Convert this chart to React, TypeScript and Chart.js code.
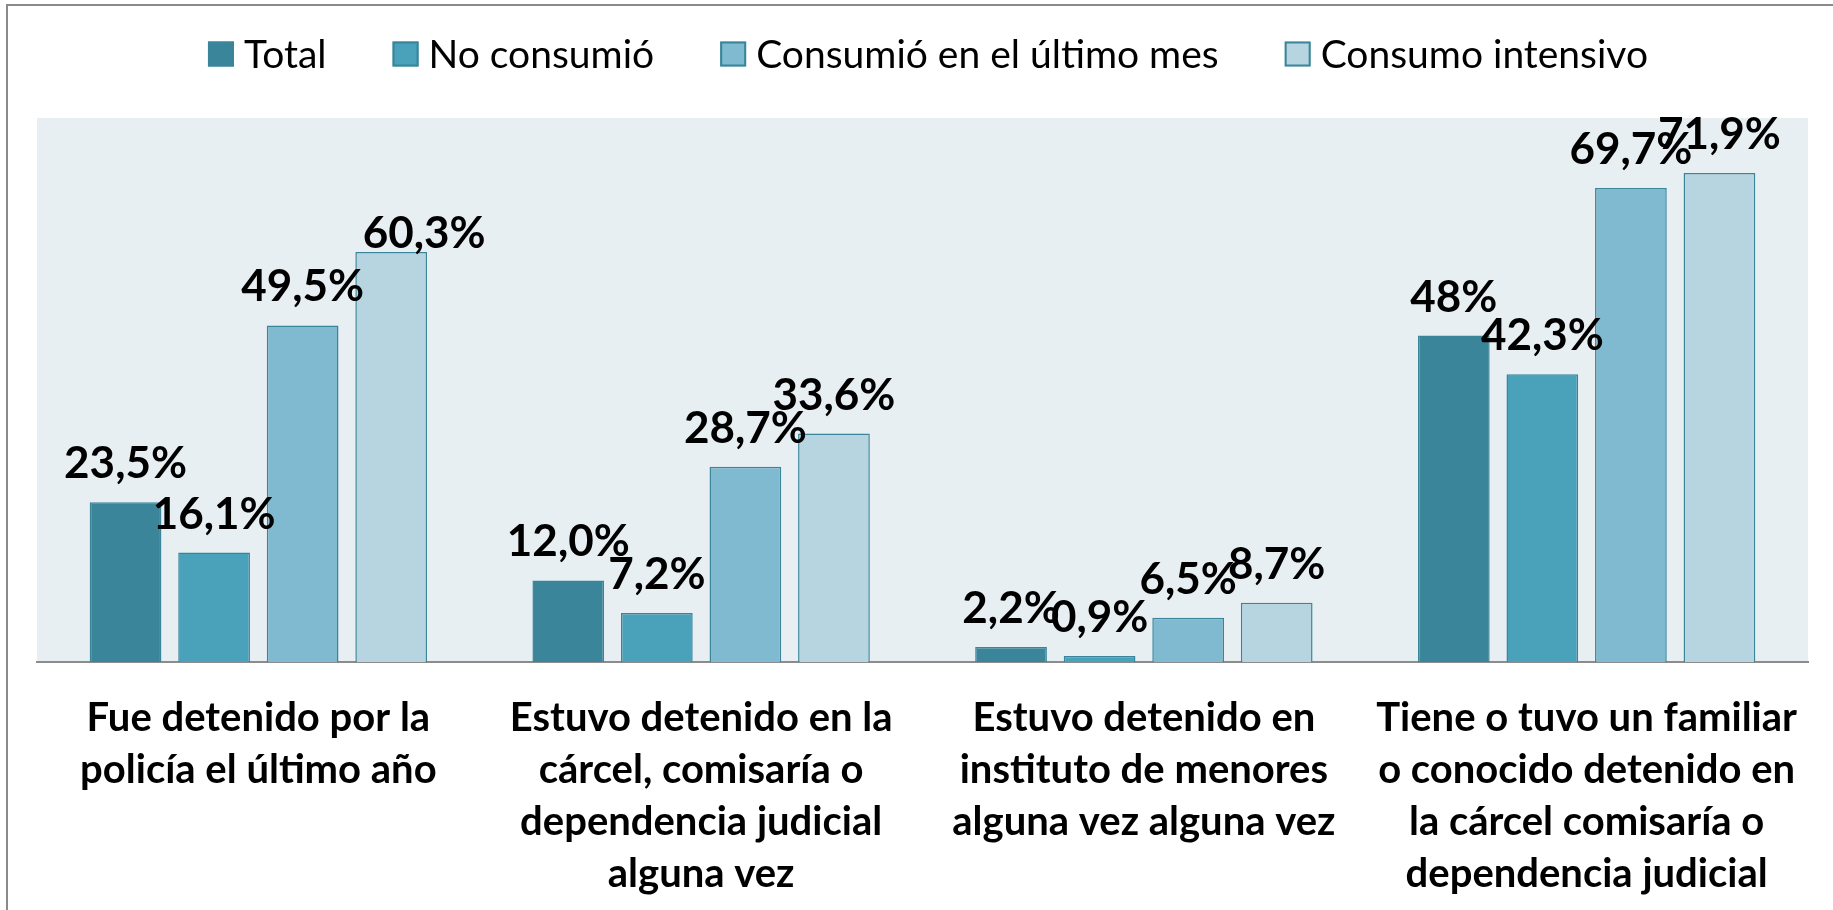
import React, { useEffect, useRef } from "react";
import { Chart, registerables } from "chart.js";

Chart.register(...registerables);

const categories: string[][] = [
  ["Fue detenido por la", "policía el último año"],
  ["Estuvo detenido en la", "cárcel, comisaría o", "dependencia judicial", "alguna vez"],
  ["Estuvo detenido en", "instituto de menores", "alguna vez alguna vez"],
  ["Tiene o tuvo un familiar", "o conocido detenido en", "la cárcel comisaría o", "dependencia judicial"],
];

const seriesNames = ["Total", "No consumió", "Consumió en el último mes", "Consumo intensivo"];

const totalValues = [23.5, 12.0, 2.2, 48];
const noConsumioValues = [16.1, 7.2, 0.9, 42.3];
const ultimoMesValues = [49.5, 28.7, 6.5, 69.7];
const intensivoValues = [60.3, 33.6, 8.7, 71.9];

// label text shown as in the source (48% shown without decimals)
const labelOverrides: Record<string, string> = { "0-3": "48%" };

const fillColors = ["#3A8599", "#49A1BA", "#7FBAD0", "#B7D5E0"];
const borderColor = "#3A8599";
const FONT = "Lato, 'Open Sans', sans-serif";

const fmt = (ds: number, i: number, v: number) =>
  labelOverrides[`${ds}-${i}`] ?? v.toFixed(1).replace(".", ",") + "%";

export default function App() {
  const ref = useRef<HTMLCanvasElement | null>(null);

  useEffect(() => {
    document.body.style.margin = "0";
    const canvas = ref.current;
    if (!canvas) return;

    const framePlugin = {
      id: "frame",
      beforeDraw(chart: any) {
        const { ctx, chartArea: a } = chart;
        ctx.save();
        ctx.fillStyle = "#ffffff";
        ctx.fillRect(0, 0, chart.width, chart.height);
        ctx.fillStyle = "#E8EFF3";
        ctx.fillRect(a.left, a.top, a.right - a.left, a.bottom - a.top);
        ctx.strokeStyle = "#8A8A8A";
        ctx.lineWidth = 2;
        ctx.beginPath();
        ctx.moveTo(6, 5);
        ctx.lineTo(chart.width, 5);
        ctx.moveTo(7, 5);
        ctx.lineTo(7, chart.height);
        ctx.stroke();
        ctx.restore();
      },
    };

    const legendPlugin = {
      id: "customLegend",
      afterDraw(chart: any) {
        const { ctx } = chart;
        ctx.save();
        ctx.font = `39px ${FONT}`;
        const box = 26, boxH = 25, gap = 10, itemGap = 66;
        const widths = seriesNames.map((n) => ctx.measureText(n).width);
        const total = widths.reduce((s, w) => s + box + gap + w, 0) + itemGap * (seriesNames.length - 1);
        let x = 928 - total / 2;
        const cy = 54;
        seriesNames.forEach((n, i) => {
          ctx.fillStyle = fillColors[i];
          ctx.fillRect(x, cy - boxH / 2, box, boxH);
          ctx.strokeStyle = borderColor;
          ctx.lineWidth = 2;
          ctx.strokeRect(x + 1, cy - boxH / 2 + 1, box - 2, boxH - 2);
          ctx.fillStyle = "#000";
          ctx.textBaseline = "middle";
          ctx.textAlign = "left";
          ctx.fillText(n, x + box + gap, cy + 1);
          x += box + gap + widths[i] + itemGap;
        });
        ctx.restore();
      },
    };

    const labelPlugin = {
      id: "valueLabels",
      afterDatasetsDraw(chart: any) {
        const { ctx } = chart;
        ctx.save();
        ctx.font = `bold 44px ${FONT}`;
        ctx.fillStyle = "#000";
        ctx.textAlign = "center";
        ctx.textBaseline = "alphabetic";
        chart.data.datasets.forEach((ds: any, di: number) => {
          const meta = chart.getDatasetMeta(di);
          meta.data.forEach((el: any, i: number) => {
            const v = ds.data[i] as number;
            let dx = 0, dy = 0;
            if (di === 3 && i === 0) { dx = 33; dy = 20; }
            ctx.fillText(fmt(di, i, v), el.x + dx, el.y - 24 + dy);
          });
        });
        ctx.restore();
      },
    };

    const chart = new Chart(canvas, {
      type: "bar",
      data: {
        labels: categories,
        datasets: [totalValues, noConsumioValues, ultimoMesValues, intensivoValues].map((d, i) => ({
          label: seriesNames[i],
          data: d,
          backgroundColor: fillColors[i],
          borderColor: i === 0 ? fillColors[0] : borderColor,
          borderWidth: 1.5,
          borderSkipped: "bottom",
          categoryPercentage: 0.8,
          barPercentage: 0.81,
        })),
      },
      options: {
        responsive: false,
        animation: false,
        layout: { padding: { left: 37, right: 25, top: 118, bottom: 0 } },
        plugins: { legend: { display: false }, tooltip: { enabled: false }, title: { display: false } },
        scales: {
          y: { display: false, min: 0, max: 80 },
          x: {
            grid: { display: false, drawTicks: false },
            border: { display: true, color: "#8C8C8C", width: 2 },
            ticks: {
              color: "#000",
              font: { family: FONT, size: 40, weight: "bold", lineHeight: 1.3 },
              padding: 30,
              maxRotation: 0,
              autoSkip: false,
            },
            afterFit(scale: any) {
              scale.height = 910 - 662;
            },
          },
        },
      } as any,
      plugins: [framePlugin, legendPlugin, labelPlugin],
    });
    return () => chart.destroy();
  }, []);

  return (
    <div style={{ width: 1833, height: 910, position: "relative", overflow: "hidden" }}>
      <canvas ref={ref} width={1833} height={910} style={{ display: "block", width: 1833, height: 910 }} />
    </div>
  );
}
